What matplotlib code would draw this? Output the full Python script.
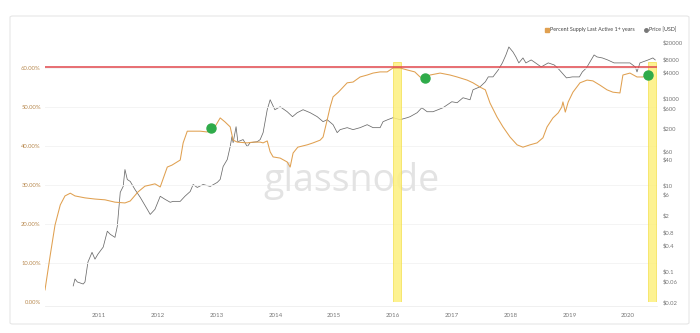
import matplotlib
matplotlib.use("Agg")
import matplotlib.pyplot as plt
from matplotlib.lines import Line2D
from matplotlib.patches import FancyBboxPatch

# ---------------- data ----------------
supply_years = [2010.08, 2010.17, 2010.25, 2010.34, 2010.42, 2010.51, 2010.59, 2010.76, 2010.93,
                2011.10, 2011.27, 2011.44, 2011.53, 2011.66, 2011.78, 2011.87, 2011.95, 2012.04,
                2012.16, 2012.24, 2012.38, 2012.43, 2012.50, 2012.60, 2012.72, 2012.84, 2012.91,
                2012.97, 2013.06, 2013.14, 2013.23, 2013.28, 2013.35, 2013.52, 2013.62, 2013.74,
                2013.79, 2013.86, 2013.91, 2013.96, 2014.08, 2014.20, 2014.25, 2014.30, 2014.38,
                2014.54, 2014.64, 2014.76, 2014.81, 2014.88, 2014.93, 2014.98, 2015.07, 2015.22,
                2015.32, 2015.44, 2015.56, 2015.66, 2015.78, 2015.90, 2016.00, 2016.12, 2016.24,
                2016.37, 2016.46, 2016.54, 2016.63, 2016.80, 2016.97, 2017.09, 2017.26, 2017.36,
                2017.48, 2017.57, 2017.65, 2017.77, 2017.87, 2017.99, 2018.11, 2018.21, 2018.33,
                2018.45, 2018.55, 2018.62, 2018.72, 2018.81, 2018.87, 2018.89, 2018.93, 2018.98,
                2019.06, 2019.18, 2019.30, 2019.40, 2019.52, 2019.64, 2019.74, 2019.86, 2019.91,
                2020.03, 2020.15, 2020.25, 2020.34, 2020.41]
supply_pct = [3.1, 12.1, 19.7, 24.9, 27.2, 27.9, 27.2, 26.7, 26.4,
              26.2, 25.6, 25.4, 25.9, 28.2, 29.7, 30.0, 30.3, 29.5,
              34.6, 35.1, 36.4, 40.8, 43.8, 43.8, 43.8, 43.6, 44.6,
              44.9, 47.2, 46.2, 44.9, 41.5, 41.0, 40.8, 41.0, 41.0,
              40.8, 41.3, 38.5, 37.2, 36.9, 35.9, 34.6, 38.2, 39.7,
              40.3, 40.8, 41.5, 42.3, 46.7, 50.0, 52.6, 53.8, 56.2,
              56.4, 57.7, 58.2, 58.7, 59.0, 59.0, 60.0, 60.0, 59.5,
              59.0, 57.7, 57.4, 58.2, 58.7, 58.2, 57.7, 56.9, 56.2,
              55.1, 54.4, 51.0, 47.4, 44.9, 42.3, 40.3, 39.7, 40.3,
              40.8, 42.1, 44.9, 47.2, 48.5, 50.0, 51.3, 48.7, 51.3,
              53.8, 56.2, 56.9, 56.7, 55.6, 54.4, 53.8, 53.6, 58.2,
              58.7, 57.7, 57.7, 58.2, 58.7]

price_years = [2010.56, 2010.59, 2010.63, 2010.73, 2010.76, 2010.81, 2010.88, 2010.93, 2010.98,
               2011.07, 2011.14, 2011.19, 2011.27, 2011.31, 2011.36, 2011.41, 2011.44, 2011.48,
               2011.53, 2011.61, 2011.70, 2011.82, 2011.87, 2011.95, 2012.04, 2012.12, 2012.21,
               2012.26, 2012.38, 2012.46, 2012.55, 2012.60, 2012.67, 2012.77, 2012.89, 2013.01,
               2013.06, 2013.11, 2013.18, 2013.23, 2013.26, 2013.28, 2013.33, 2013.36, 2013.45,
               2013.52, 2013.57, 2013.69, 2013.74, 2013.79, 2013.86, 2013.91, 2013.95, 2013.99,
               2014.08, 2014.20, 2014.29, 2014.37, 2014.47, 2014.59, 2014.71, 2014.81, 2014.88,
               2014.98, 2015.05, 2015.10, 2015.22, 2015.32, 2015.44, 2015.56, 2015.66, 2015.78,
               2015.83, 2015.91, 2016.00, 2016.12, 2016.24, 2016.29, 2016.41, 2016.49, 2016.58,
               2016.68, 2016.85, 2017.00, 2017.09, 2017.19, 2017.31, 2017.36, 2017.48, 2017.57,
               2017.62, 2017.70, 2017.79, 2017.86, 2017.92, 2017.97, 2018.04, 2018.09, 2018.14,
               2018.21, 2018.26, 2018.35, 2018.40, 2018.52, 2018.64, 2018.74, 2018.78, 2018.83,
               2018.95, 2019.05, 2019.17, 2019.22, 2019.29, 2019.37, 2019.42, 2019.47, 2019.56,
               2019.65, 2019.76, 2019.86, 2020.03, 2020.12, 2020.15, 2020.20, 2020.34, 2020.42,
               2020.46]
price_usd = [0.047, 0.068, 0.058, 0.052, 0.058, 0.166, 0.28, 0.195, 0.254,
             0.37, 0.86, 0.73, 0.62, 1.12, 6.8, 9.3, 22.8, 13.4,
             12.1, 7.9, 5.2, 2.75, 2.1, 2.75, 5.5, 4.7, 4.0,
             4.2, 4.2, 5.5, 7.1, 10.3, 8.8, 10.3, 9.3, 11.5,
             13.5, 26.8, 38.8, 77, 131, 95, 222, 100, 112,
             77, 95, 100, 112, 162, 547, 929, 713, 547,
             641, 492, 378, 467, 547, 467, 378, 290, 322,
             247, 162, 190, 211, 190, 211, 247, 211, 211,
             290, 322, 358, 322, 358, 378, 467, 608, 492,
             492, 608, 836, 793, 1033, 929, 1578, 1849, 2410,
             3134, 3134, 4540, 6580, 10040, 15350, 11780, 9040, 6580,
             8570, 6580, 7710, 6930, 5320, 6580, 5920, 5320, 4540,
             2970, 3130, 3130, 4080, 5040, 7710, 10040, 9040, 8570,
             7710, 6580, 6580, 6580, 5320, 4080, 6580, 7710, 8570,
             7710]

marker_years = [2012.91, 2016.54, 2020.34]
marker_pct = [44.6, 57.4, 58.2]

threshold_pct = 60.3
highlight_spans = [(2016.00, 2016.14), (2020.34, 2020.47)]

pct_ticks = [0, 10, 20, 30, 40, 50, 60]
pct_labels = ["0.00%", "10.00%", "20.00%", "30.00%", "40.00%", "50.00%", "60.00%"]
price_ticks = [20000, 8000, 4000, 1000, 600, 200, 60, 40, 10, 6, 2, 0.8, 0.4, 0.1, 0.06, 0.02]
price_labels = ["$20000", "$8000", "$4000", "$1000", "$600", "$200", "$60", "$40", "$10",
                "$6", "$2", "$0.8", "$0.4", "$0.1", "$0.06", "$0.02"]
year_ticks = [2011, 2012, 2013, 2014, 2015, 2016, 2017, 2018, 2019, 2020]

# ---------------- figure ----------------
W, H = 700, 333
fig = plt.figure(figsize=(7.0, 3.33), dpi=100)
fig.patch.set_facecolor("white")

card = FancyBboxPatch((10 / W, (H - 324) / H), 679 / W, 308 / H,
                      boxstyle="round,pad=0,rounding_size=0.004",
                      transform=fig.transFigure, facecolor="white",
                      edgecolor="#e6e6e6", linewidth=0.8, zorder=-5)
fig.patches.append(card)

ax = fig.add_axes([45 / W, (H - 302) / H, 612 / W, 262 / H])
ax.set_facecolor("none")
ax2 = ax.twinx()
ax2.set_facecolor("none")

ORANGE = "#e0a050"
GREY = "#6a6a6a"
FONT = "Lato"

ax.set_xlim(2010.08, 2020.49)
ax.set_ylim(0, 67.18)
ax2.set_yscale("log")
ax2.set_ylim(0.0211, 22230)

for s in ["top", "right", "left", "bottom"]:
    ax.spines[s].set_visible(False)
    ax2.spines[s].set_visible(False)

# grid
for t in pct_ticks:
    ax.axhline(t, color="#f2f2f2", lw=0.6, zorder=0)

# watermark
ax.text(0.5, 0.46, "glassnode", transform=ax.transAxes, fontsize=27,
        family="Open Sans", color="#e3e3e3", ha="center", va="center", zorder=0)

# highlight spans
for a, b in highlight_spans:
    ax.axvspan(a, b, ymin=0, ymax=0.917, facecolor="#fdf07e", edgecolor="#f4df4f",
               lw=0.6, alpha=0.85, zorder=1)

# price line
ax2.plot(price_years, price_usd, color=GREY, lw=0.55, zorder=3)

# supply line
ax.plot(supply_years, supply_pct, color=ORANGE, lw=0.75, zorder=4)
ax.axhline(threshold_pct, color="#e0474c", lw=1.1, zorder=5)
ax.plot(marker_years, marker_pct, "o", color="#2fab4a", markersize=6.5, zorder=6, ls="none")

ax.set_zorder(ax2.get_zorder() + 1)

# ticks
ax.set_yticks(pct_ticks)
ax.set_yticklabels(pct_labels, fontsize=4.2, color="#b8894f", family=FONT)
ax.tick_params(axis="y", length=0, pad=3)
ax.set_xticks(year_ticks)
ax.set_xticklabels([str(y) for y in year_ticks], fontsize=4.4, color="#777777", family=FONT)
ax.tick_params(axis="x", length=0, pad=8)

ax2.set_yticks(price_ticks)
ax2.set_yticklabels(price_labels, fontsize=4.2, color="#777777", family=FONT)
ax2.yaxis.set_minor_locator(matplotlib.ticker.NullLocator())
ax2.tick_params(axis="y", length=0, pad=4)

ax.axhline(-1.0, color="#eeeeee", lw=0.6, clip_on=False)

# legend
handles = [Line2D([], [], marker="s", color=ORANGE, ls="none", markersize=2.5),
           Line2D([], [], marker="o", color="#777777", ls="none", markersize=2.5)]
fig.legend(handles, ["Percent Supply Last Active 1+ years", "Price [USD]"],
           loc="upper right", bbox_to_anchor=(679 / W, (H - 25) / H), ncol=2,
           frameon=False, prop={"family": FONT, "size": 3.9}, labelcolor="#444444",
           handletextpad=0.1, columnspacing=1.6, handlelength=1.0, borderaxespad=0)

fig.savefig("out.png", dpi=100, facecolor="white")
